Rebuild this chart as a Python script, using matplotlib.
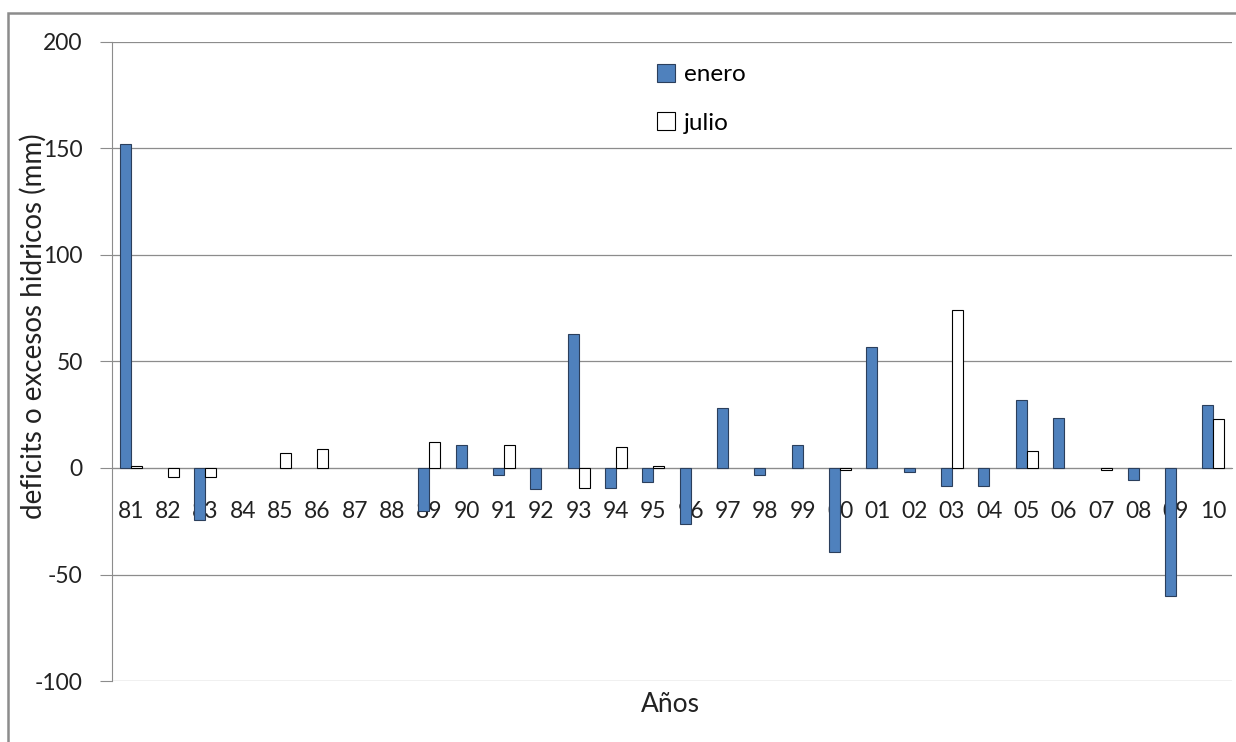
import matplotlib.pyplot as plt
import matplotlib.patches as patches
import numpy as np

plt.rcParams['font.family'] = ['Lato', 'DejaVu Sans']
plt.rcParams['axes.unicode_minus'] = False

years = ['81', '82', '83', '84', '85', '86', '87', '88', '89', '90',
         '91', '92', '93', '94', '95', '96', '97', '98', '99', '00',
         '01', '02', '03', '04', '05', '06', '07', '08', '09', '10']
# empty years have no bar at all (nan)
enero = [152, np.nan, -24.5, np.nan, np.nan, np.nan, np.nan, np.nan, -20, 11,
         -3.5, -10, 63, -9.5, -6.5, -26.5, 28, -3.5, 11, -39.5,
         57, -2, -8.5, -8.5, 32, 23.5, np.nan, -5.5, -60, 29.5]
julio = [1, -4, -4, np.nan, 7, 9, np.nan, np.nan, 12, np.nan,
         11, np.nan, -9.5, 10, 1, np.nan, np.nan, np.nan, np.nan, -1,
         np.nan, np.nan, 74, np.nan, 8, np.nan, -1, np.nan, np.nan, 23]

fig = plt.figure(figsize=(12.36, 7.42), dpi=100)
ax = fig.add_axes([112/1236, 1 - 681/742, (1232-112)/1236, (681-42)/742])

x = np.arange(len(years))
w = 0.295
ax.bar(x - w/2, enero, w, color='#4F81BD', edgecolor='#2b3f5c', linewidth=0.8, label='enero', zorder=3)
ax.bar(x + w/2, julio, w, color='white', edgecolor='black', linewidth=0.8, label='julio', zorder=3)

ax.set_xlim(-0.5, len(years) - 0.5)
ax.set_ylim(-100, 200)
ax.set_yticks([-100, -50, 0, 50, 100, 150, 200])
ax.yaxis.grid(True, color='#8c8c8c', linewidth=0.9)
ax.set_axisbelow(True)

for s in ['top', 'right']:
    ax.spines[s].set_visible(False)
ax.spines['left'].set_color('#8c8c8c')
ax.spines['bottom'].set_position(('data', 0))
ax.spines['bottom'].set_color('#8c8c8c')

ax.set_xticks(x)
ax.set_xticklabels(years)
ax.tick_params(axis='x', length=0, pad=24, labelsize=16.5, colors='#222222')
ax.tick_params(axis='y', length=9, color='#8c8c8c', labelsize=16.5, pad=12, labelcolor='#222222')

fig.text(33/1236, 1 - 326/742, 'deficits o excesos hidricos (mm)', fontsize=20, color='#222222',
         rotation=90, ha='center', va='center')
fig.text(670/1236, 1 - 704/742, 'Años', fontsize=19, color='#222222', ha='center', va='center')

ax.legend(loc='upper left', bbox_to_anchor=((640-112)/1120, 1 - (47-42)/639), frameon=False,
          fontsize=17.5, labelspacing=1.1, handlelength=0.75, handleheight=0.75, handletextpad=0.35,
          borderpad=0.2)

fig.add_artist(patches.Rectangle((8/1236, -0.05), 1.1, 1 - 13/742 + 0.05, transform=fig.transFigure,
                                 fill=False, edgecolor='#8c8c8c', linewidth=1.8))

fig.savefig('out.png', dpi=100)
